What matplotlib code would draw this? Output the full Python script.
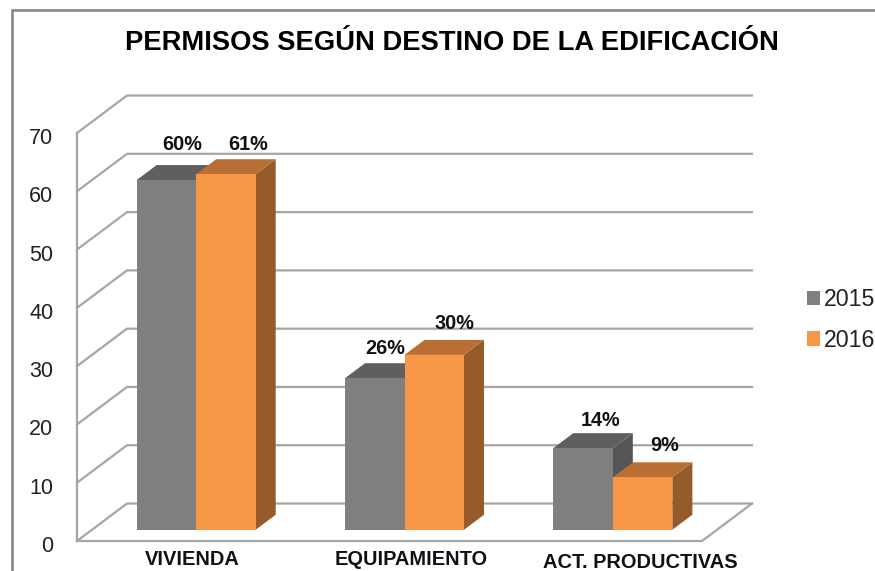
import matplotlib
matplotlib.use("Agg")
import matplotlib.pyplot as plt
from matplotlib.lines import Line2D
from matplotlib.patches import Patch, Polygon
from matplotlib.transforms import ScaledTranslation

categories = ["VIVIENDA", "EQUIPAMIENTO", "ACT. PRODUCTIVAS"]
years = ["2015", "2016"]
values_2015 = [60, 26, 14]
values_2016 = [61, 30, 9]
y_ticks = [0, 10, 20, 30, 40, 50, 60, 70]
title = "PERMISOS SEGÚN DESTINO DE LA EDIFICACIÓN"

# Styling
W, H = 875, 571
GRID = "#A6A6A6"
BORDER = "#868686"
TEXT = "#111111"
FRONT = ["#7F7F7F", "#F79646"]
TOP = ["#5F5F5F", "#B96F34"]
SIDE = ["#555555", "#955B2A"]
plt.rcParams["font.family"] = ["Liberation Sans", "DejaVu Sans"]

fig = plt.figure(figsize=(W / 100, H / 100), dpi=100, facecolor="white")
ax = fig.add_axes([77 / W, (H - 541) / H, (702 - 77) / W, (541 - 133) / H])
ax.set_xlim(0, 3)
ax.set_ylim(0, 70)
ax.patch.set_visible(False)
for s in ax.spines.values():
    s.set_visible(False)

DX, DY = 0.24, 6.43          # full depth of the floor, in data units
BAR_W = 0.2857
D0, D1 = 0.3, 0.7            # bar depth span
GROUP_C = 0.5


def proj(x, v, d):
    return (x + DX * d, v + DY * d)


# walls and gridlines
for t in y_ticks:
    ax.add_line(Line2D(*zip(proj(0, t, 0), proj(0, t, 1), proj(3, t, 1)),
                       color=GRID, lw=1.6, clip_on=False, zorder=1,
                       solid_joinstyle="miter"))
ax.add_line(Line2D([0, 0], [0, 70], color=GRID, lw=1.6, clip_on=False, zorder=1))
ax.add_line(Line2D(*zip(proj(0, 0, 0), proj(3, 0, 0), proj(3, 0, 1)),
                   color=GRID, lw=1.6, clip_on=False, zorder=1))


def bar3d(left, v, i, z):
    r = left + BAR_W
    ax.add_patch(Polygon([proj(left, 0, D0), proj(r, 0, D0), proj(r, v, D0), proj(left, v, D0)],
                         fc=FRONT[i], ec="none", zorder=z + 0.2, clip_on=False))
    ax.add_patch(Polygon([proj(left, v, D0), proj(r, v, D0), proj(r, v, D1), proj(left, v, D1)],
                         fc=TOP[i], ec="none", zorder=z + 0.1, clip_on=False))
    ax.add_patch(Polygon([proj(r, 0, D0), proj(r, 0, D1), proj(r, v, D1), proj(r, v, D0)],
                         fc=SIDE[i], ec="none", zorder=z, clip_on=False))


label_offsets = [[(-4.5, 21), (2, 15)], [(-10, 15), (0, 16)], [(-3, 13), (2, 17)]]
for c, (v0, v1) in enumerate(zip(values_2015, values_2016)):
    for i, v in enumerate((v0, v1)):
        left = c + GROUP_C - BAR_W + i * BAR_W
        bar3d(left, v, i, 2 + i)
        ox, oy = label_offsets[c][i]
        ax.annotate(f"{v}%", xy=proj(left + BAR_W / 2, v, D1), xytext=(ox * 0.72, oy * 0.72),
                    textcoords="offset points", ha="center", va="center",
                    fontsize=14.3, fontweight="bold", color=TEXT, zorder=10,
                    annotation_clip=False)

# axes ticks
ax.set_yticks(y_ticks)
ax.set_xticks([])
ax.tick_params(axis="y", length=0, pad=17, labelsize=15.5, labelcolor="#222222")
shift = ScaledTranslation(0, -3 / 100, fig.dpi_scale_trans)
for lab in ax.get_yticklabels():
    lab.set_transform(lab.get_transform() + shift)

# category labels
cat_px = [(192 - 77, 18.5), (411 - 77, 18.5), (640 - 77, 22)]
for name, (px, dy) in zip(categories, cat_px):
    ax.annotate(name, xy=(px / (702 - 77) * 3, 0), xytext=(0, -dy * 0.72),
                textcoords="offset points", ha="center", va="center",
                fontsize=14.4, fontweight="bold", color=TEXT, annotation_clip=False)

# frame
fig.add_artist(Line2D([12 / W, 12 / W, 1], [0, 1 - 10 / H, 1 - 10 / H],
                      color=BORDER, lw=1.9, solid_joinstyle="miter"))

fig.text(452 / W, 1 - 43 / H, title, ha="center", va="center",
         fontsize=19.7, fontweight="bold", color="black")

handles = [Patch(fc=FRONT[i], ec="none") for i in range(2)]
fig.legend(handles, years, loc="center left", bbox_to_anchor=(807 / W, 1 - 320 / H),
           frameon=False, fontsize=16.7, handlelength=0.57, handleheight=0.57,
           handletextpad=0.17, labelspacing=0.75, borderpad=0, borderaxespad=0,
           labelcolor="#222222")

fig.savefig("out.png", dpi=100)
